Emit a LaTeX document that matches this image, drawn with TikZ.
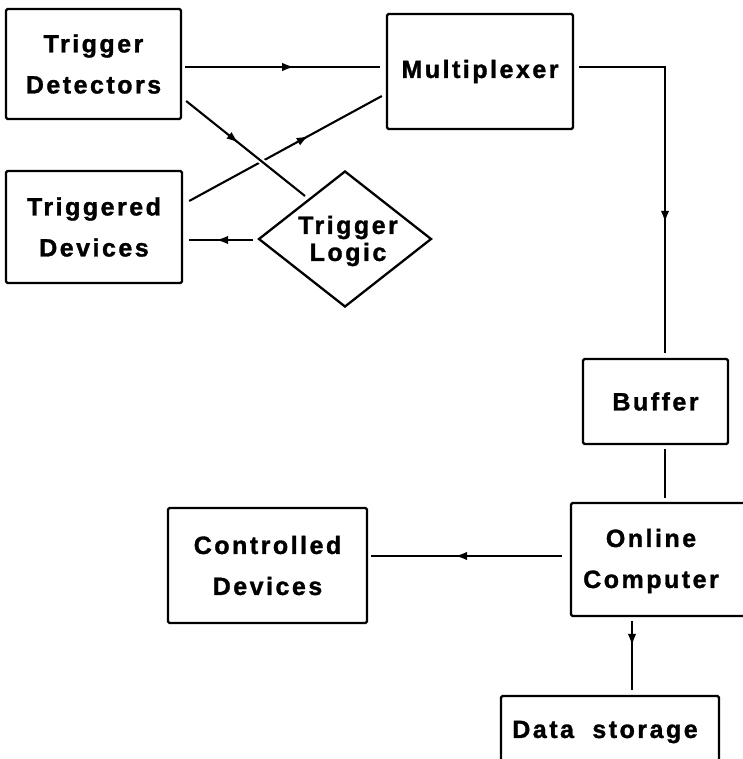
\documentclass[tikz,border=0pt]{standalone}
\usepackage{fontspec}
\newfontfamily\lblfont[LetterSpace=10,FakeBold=1.3]{Liberation Sans Bold}
\usetikzlibrary{shapes.geometric,arrows.meta,decorations.markings}
\tikzset{
  box/.style={draw, line width=2.3pt, rounded corners=1.5pt, inner sep=0pt, align=center,
    font=\lblfont\fontsize{25}{41}\selectfont},
  txt/.style={inner sep=0pt, align=center, font=\lblfont\fontsize{25}{41}\selectfont},
  logicbox/.style={draw, diamond, line width=2.3pt, inner sep=0pt, align=center,
    minimum width=173pt, minimum height=136pt,
    font=\lblfont\fontsize{25}{27}\selectfont},
  conn/.style={line width=2.1pt},
  midarrow/.style={postaction={decorate, decoration={markings,
    mark=at position #1 with {\arrow{Latex[length=12pt,width=8.5pt]}}}}},
}
\begin{document}
\begin{tikzpicture}[x=1pt,y=-1pt]
\useasboundingbox (0,0) rectangle (742,759);
% boxes
\node[box, minimum width=175pt, minimum height=110pt] (td) at (93.5,64) {Trigger\\Detectors};
\node[box, minimum width=176pt, minimum height=112pt] (tdev) at (94,227) {Triggered\\Devices};
\node[box, minimum width=186pt, minimum height=115pt] (mux) at (480,71.5) {Multiplexer};
\node[logicbox] (logic) at (345,239) {};
\node[txt, font=\lblfont\fontsize{25}{27}\selectfont] (logictext) at (348,241) {Trigger\\Logic};
\node[box, minimum width=145pt, minimum height=85pt] (buf) at (655.5,401.5) {Buffer};
\node[box, minimum width=188pt, minimum height=113pt] (online) at (665,559.5) {};
\node[txt] (onlinetext) at (651,561) {Online\\Computer};
\node[box, minimum width=199pt, minimum height=115pt] (cd) at (267.5,565.5) {Controlled\\Devices};
\node[box, minimum width=218pt, minimum height=104pt] (data) at (610,748) {};
\node[txt] (datatext) at (605,732) {Data\hspace{9pt} storage};
% connectors
\draw[conn, midarrow=0.56] ([shift={(3pt,-3pt)}]td.east) -- ([shift={(-6pt,4.5pt)}]mux.west);
\draw[conn, midarrow=0.62] ([shift={(6pt,26pt)}]tdev.east) -- ([shift={(-4pt,-24.5pt)}]mux.west);
\draw[conn, preaction={draw=white, line width=6pt}, midarrow=0.44]
  ([shift={(4pt,-37pt)}]td.east) -- ([shift={(-40pt,43pt)}]logic.center);
\draw[conn, midarrow=0.58] ([shift={(-4pt,-1pt)}]logic.west) -- ([shift={(6pt,-13pt)}]tdev.east);
\draw[conn, midarrow=0.65] ([shift={(5pt,4.5pt)}]mux.east) -| ([shift={(9.5pt,5pt)}]buf.north);
\draw[conn] ([shift={(9.5pt,-4pt)}]buf.south) -- ([shift={(0pt,4pt)}]online.north);
\draw[conn, midarrow=0.56] ([shift={(-8pt,3.5pt)}]online.west) -- ([shift={(3pt,9.5pt)}]cd.east);
\draw[conn, midarrow=0.36] ([shift={(-33pt,-4pt)}]online.south) -- ([shift={(22pt,5pt)}]data.north);
\end{tikzpicture}
\end{document}
